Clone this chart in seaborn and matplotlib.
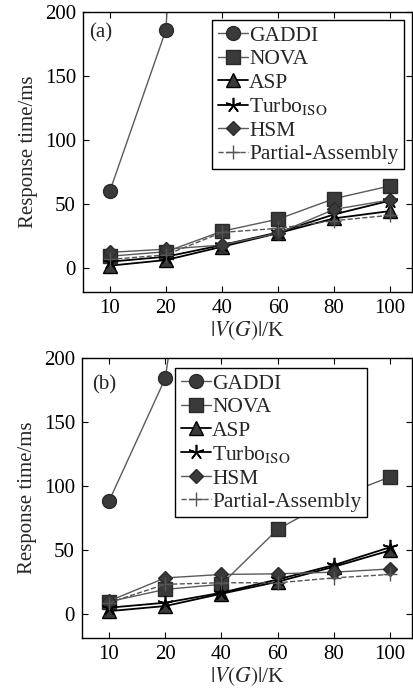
import numpy as np
import pandas as pd
import matplotlib
matplotlib.use("Agg")
import matplotlib.pyplot as plt
import seaborn as sns

# ---- data ----
sizes = ["10", "20", "40", "60", "80", "100"]
series_names = ["GADDI", "NOVA", "ASP", "Turbo$_{\\mathrm{ISO}}$", "HSM", "Partial-Assembly"]

# panel (a)
a_gaddi = [60, 186, 1000, np.nan, np.nan, np.nan]
a_nova = [9, 12.5, 28.5, 38, 54, 64]
a_asp = [1.6, 6, 16.4, 27, 38.6, 44.3]
a_turbo = [4.7, 8.6, 17.7, 27.6, 41.7, 52.5]
a_hsm = [12, 14.5, 17.7, 27, 45.6, 53]
a_partial = [6.5, 10, 27.6, 30.8, 36.8, 41]

# panel (b)
b_gaddi = [88, 184, 480, np.nan, np.nan, np.nan]
b_nova = [9.4, 19, 23, 66, 90, 107]
b_asp = [2, 6, 15.6, 25, 36.7, 49.5]
b_turbo = [4.7, 8.6, 16.4, 26.8, 38, 52]
b_hsm = [9.9, 28, 30.7, 31.2, 32.5, 35]
b_partial = [8.6, 23, 24.2, 24.2, 28, 30.7]

panels = [
    ("(a)", [a_gaddi, a_nova, a_asp, a_turbo, a_hsm, a_partial]),
    ("(b)", [b_gaddi, b_nova, b_asp, b_turbo, b_hsm, b_partial]),
]

styles = [
    dict(marker="o", color="#5a5a5a", mfc="#3a3a3a", mec="#2a2a2a", ms=10, ls="-", lw=1.0),
    dict(marker="s", color="#5a5a5a", mfc="#3a3a3a", mec="#2a2a2a", ms=10, ls="-", lw=1.0),
    dict(marker="^", color="#000000", mfc="#3a3a3a", mec="#000000", ms=10, ls="-", lw=1.3),
    dict(marker=(5, 2, 0), color="#000000", mfc="#000000", mec="#000000", ms=11, ls="-", lw=1.3, mew=1.2),
    dict(marker="D", color="#5a5a5a", mfc="#3a3a3a", mec="#2a2a2a", ms=7.5, ls="-", lw=1.0),
    dict(marker="+", color="#555555", mfc="#555555", mec="#555555", ms=10, ls="--", lw=1.0, mew=1.0),
]

sns.set_style("ticks")
plt.rcParams["font.family"] = ["Liberation Serif", "DejaVu Serif"]
plt.rcParams["mathtext.fontset"] = "stix"
plt.rcParams["xtick.direction"] = "in"
plt.rcParams["ytick.direction"] = "in"

fig = plt.figure(figsize=(4.13, 6.92), dpi=100)
W, H = 413.0, 692.0
axes_boxes = [
    (83, 12, 412, 292),
    (82, 358, 412, 638),
]
legend_anchor = [("upper right", (0.975, 0.971)), ("upper left", (0.283, 0.964))]
label_pos = [(0.02, 0.925), (0.03, 0.905)]

x_idx = np.arange(len(sizes))
for k, (tag, data) in enumerate(panels):
    l, t, r, b = axes_boxes[k]
    ax = fig.add_axes([l / W, 1 - b / H, (r - l) / W, (b - t) / H])
    for name, vals, st in zip(series_names, data, styles):
        df = pd.DataFrame({"x": x_idx, "y": vals}).dropna()
        st = dict(st)
        sns.lineplot(data=df, x="x", y="y", ax=ax, label=name,
                     marker=st.pop("marker"), color=st.pop("color"),
                     markerfacecolor=st.pop("mfc"), markeredgecolor=st.pop("mec"),
                     markersize=st.pop("ms"), linestyle=st.pop("ls"),
                     linewidth=st.pop("lw"), markeredgewidth=st.pop("mew", 1.0),
                     clip_on=True)
    ax.set_xlim(-0.48, 5.39)
    ax.set_ylim(-19, 200)
    ax.set_xticks(x_idx)
    ax.set_xticklabels(sizes)
    ax.set_yticks([0, 50, 100, 150, 200])
    ax.tick_params(axis="both", which="both", direction="in", top=True, right=True,
                   labelsize=15, length=4, width=0.8, pad=5, colors="black")
    for sp in ax.spines.values():
        sp.set_visible(True)
        sp.set_linewidth(1.0)
        sp.set_color("black")
    ax.set_xlabel("$|V(G)|$/K", fontsize=15.5, labelpad=1)
    ax.set_ylabel("Response time/ms", fontsize=15, labelpad=5)
    ax.text(label_pos[k][0], label_pos[k][1], tag, transform=ax.transAxes,
            fontsize=15, ha="left", va="center")
    loc, anchor = legend_anchor[k]
    leg = ax.legend(loc=loc, bbox_to_anchor=anchor, borderaxespad=0, fontsize=15.5,
                    frameon=True, fancybox=False, framealpha=1, edgecolor="black",
                    handlelength=1.4, handletextpad=0.06, labelspacing=0.16,
                    borderpad=0.25)
    leg.get_frame().set_linewidth(1.0)

fig.savefig("out.png", dpi=100)
